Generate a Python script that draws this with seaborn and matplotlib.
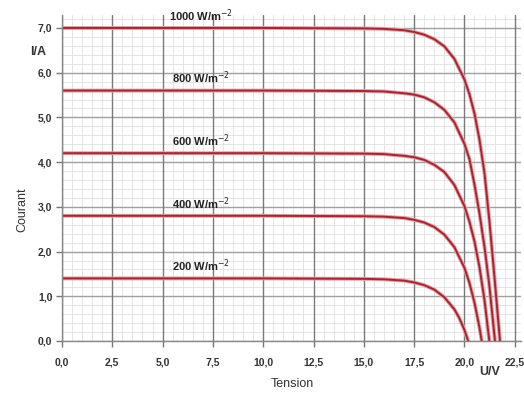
import matplotlib
matplotlib.use("Agg")
import matplotlib.pyplot as plt
import seaborn as sns
import pandas as pd
import numpy as np
from matplotlib.ticker import FixedLocator

# ---- data (U in V, I in A) ----
labels = ["1000 W/m$^{-2}$", "800 W/m$^{-2}$", "600 W/m$^{-2}$", "400 W/m$^{-2}$", "200 W/m$^{-2}$"]

u_1000 = [0, 5, 10, 15, 16, 17, 17.5, 18, 18.5, 19, 19.5, 20, 20.25, 20.5, 20.75, 21, 21.25, 21.5, 21.77]
i_1000 = [7.0, 7.0, 7.0, 6.99, 6.98, 6.95, 6.91, 6.85, 6.75, 6.59, 6.31, 5.85, 5.52, 5.09, 4.5, 3.75, 2.65, 1.4, 0.0]

u_800 = [0, 5, 10, 15, 16, 17, 17.5, 18, 18.5, 19, 19.5, 20, 20.25, 20.5, 20.75, 21, 21.25, 21.52]
i_800 = [5.6, 5.6, 5.6, 5.59, 5.58, 5.54, 5.51, 5.45, 5.34, 5.17, 4.89, 4.41, 4.07, 3.5, 2.85, 2.1, 1.2, 0.0]

u_600 = [0, 5, 10, 15, 16, 17, 17.5, 18, 18.5, 19, 19.5, 20, 20.25, 20.5, 20.75, 21, 21.24]
i_600 = [4.2, 4.2, 4.2, 4.19, 4.18, 4.14, 4.11, 4.05, 3.94, 3.78, 3.49, 3.02, 2.67, 2.23, 1.65, 0.91, 0.0]

u_400 = [0, 5, 10, 15, 16, 17, 17.5, 18, 18.5, 19, 19.5, 20, 20.25, 20.5, 20.75, 20.86]
i_400 = [2.8, 2.8, 2.8, 2.79, 2.78, 2.75, 2.71, 2.65, 2.55, 2.38, 2.10, 1.64, 1.30, 0.86, 0.30, 0.0]

u_200 = [0, 5, 10, 15, 16, 17, 17.5, 18, 18.5, 19, 19.5, 19.75, 20, 20.19]
i_200 = [1.4, 1.4, 1.4, 1.39, 1.38, 1.35, 1.31, 1.25, 1.15, 0.98, 0.71, 0.51, 0.25, 0.0]

x_ticks = [0, 2.5, 5, 7.5, 10, 12.5, 15, 17.5, 20, 22.5]
x_ticklabels = ["0,0", "2,5", "5,0", "7,5", "10,0", "12,5", "15,0", "17,5", "20,0", "22,5"]
y_ticks = [0, 1, 2, 3, 4, 5, 6, 7]
y_ticklabels = ["0,0", "1,0", "2,0", "3,0", "4,0", "5,0", "6,0", "7,0"]

series_u = [u_1000, u_800, u_600, u_400, u_200]
series_i = [i_1000, i_800, i_600, i_400, i_200]

rows = []
for lab, us, is_ in zip(labels, series_u, series_i):
    for u, i in zip(us, is_):
        rows.append({"U": u, "I": i, "E": lab})
df = pd.DataFrame(rows)

sns.set_theme(style="white")
plt.rcParams['font.family'] = ['Liberation Sans', 'DejaVu Sans']

fig = plt.figure(figsize=(5.24, 3.94), dpi=100)
ax = fig.add_axes([62/524, 1 - 341/394, (22.8 * 20.12) / 524, (341 - 15) / 394])

# grid: minor lines only where no major line lies
x_minor = [k * 0.5 for k in range(0, 46) if k % 5 != 0]
y_minor = [k * 0.2 for k in range(0, 37) if k % 5 != 0]
ax.set_xticks(x_ticks)
ax.set_yticks(y_ticks)
ax.xaxis.set_minor_locator(FixedLocator(x_minor))
ax.yaxis.set_minor_locator(FixedLocator(y_minor))
ax.grid(which="minor", color="#e0e0e0", linewidth=0.6)
ax.grid(which="major", visible=False)
ax.set_axisbelow(True)
# major grid lines drawn above the minor ones so they stay solid
for xv in x_ticks:
    ax.axvline(xv, color="#7a7a7a", linewidth=1.0, zorder=0.8)
for yv in y_ticks:
    ax.axhline(yv, color="#a0a0a0", linewidth=1.0, zorder=0.7)

red = "#a82430"
sns.lineplot(data=df, x="U", y="I", hue="E", palette=["#e6a0a6"] * 5, linewidth=2.8,
             sort=False, legend=False, ax=ax, estimator=None)
sns.lineplot(data=df, x="U", y="I", hue="E", palette=[red] * 5, linewidth=1.4,
             sort=False, legend=False, ax=ax, estimator=None)

ax.set_xlim(0, 22.8)
ax.set_ylim(0, 7.29)

ax.set_xticklabels(x_ticklabels, fontsize=7.5, fontweight="bold", color="#333333")
ax.set_yticklabels(y_ticklabels, fontsize=7.5, fontweight="bold", color="#333333")
ax.tick_params(axis="both", which="major", length=4, width=1, color="#777777", pad=3,
               bottom=True, left=True)
ax.tick_params(axis="both", which="minor", length=0)
ax.tick_params(axis="x", pad=8)

for s in ["top", "right"]:
    ax.spines[s].set_visible(False)
for s in ["left", "bottom"]:
    ax.spines[s].set_color("#888888")
    ax.spines[s].set_linewidth(1.0)

ax.set_xlabel("")
ax.set_ylabel("")

# curve labels
for lab, is_ in zip(labels, series_i):
    ax.text(6.9, is_[0] + 0.28, lab, fontsize=8, fontweight="bold", color="#222222",
            ha="center", va="center", clip_on=False)

fig.text(38/524, 1 - 52/394, "I/A", fontsize=9, fontweight="bold", color="#333333",
         ha="center", va="center")
fig.text(22/524, 1 - 210/394, "Courant", fontsize=9, color="#333333", rotation=90,
         ha="center", va="center")
fig.text(292/524, 1 - 384/394, "Tension", fontsize=9, color="#333333",
         ha="center", va="center")
fig.text(490/524, 1 - 372/394, "U/V", fontsize=9, fontweight="bold", color="#333333",
         ha="center", va="center")

fig.savefig("out.png", dpi=100)
